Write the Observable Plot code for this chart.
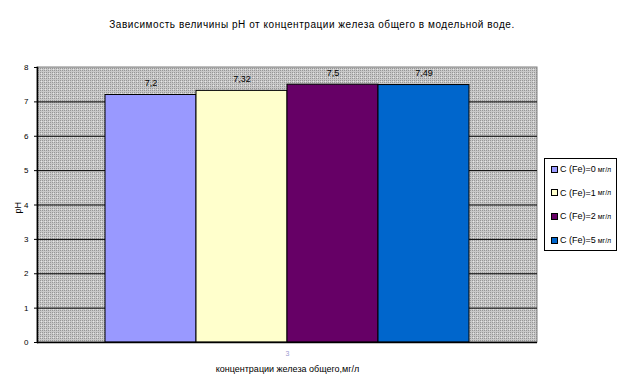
<!DOCTYPE html>
<html><head><meta charset="utf-8">
<script src="https://cdn.jsdelivr.net/npm/d3@7"></script>
<script src="https://cdn.jsdelivr.net/npm/@observablehq/plot@0.6"></script>
<style>
body{margin:0;background:#fff;font-family:"Liberation Sans",Arial,sans-serif;}
#wrap{position:relative;width:623px;height:388px;}
.legend{position:absolute;left:544px;top:158px;width:73px;height:93px;border:1px solid #000;background:#fff;box-sizing:border-box;}
.item{position:absolute;left:6px;display:flex;align-items:center;white-space:nowrap;color:#000;}
.sw{width:5px;height:5px;border:1px solid #000;margin-right:2px;}
.main{font-size:9px;}
.unit{font-size:7px;margin-left:2px;}
.title-text{letter-spacing:0.55px;}
</style></head><body><div id="wrap"></div>
<script>
const category = "3";
const series = ["C (Fe)=0", "C (Fe)=1", "C (Fe)=2", "C (Fe)=5"];
const unit = "мг/л";
const values = [7.2, 7.32, 7.5, 7.49];
const colors = ["#9999ff", "#ffffcc", "#660066", "#0066cc"];
const yTicks = [0, 1, 2, 3, 4, 5, 6, 7, 8];
const gridTicks = [1, 2, 3, 4, 5, 6, 7];
const title = "Зависимость величины pH от концентрации железа общего в модельной воде.";
const xLabel = "концентрации железа общего,мг/л";
const yLabel = "pH";

const rows = series.map((s, i) => ({series: s, value: values[i], label: String(values[i]).replace(".", ",")}));

function background(index, scales, vals, dim) {
  const g = d3.create("svg:g");
  const defs = g.append("defs");
  const p = defs.append("pattern").attr("id", "dots").attr("width", 4).attr("height", 4).attr("patternUnits", "userSpaceOnUse");
  p.append("rect").attr("width", 4).attr("height", 4).attr("fill", "#c8c8c8");
  [[0,0],[2,0],[0,2],[2,2]].forEach(([a,b]) => p.append("rect").attr("x", a).attr("y", b).attr("width", 1).attr("height", 1).attr("fill", "#969696"));
  p.append("rect").attr("x", 1).attr("y", 1).attr("width", 1).attr("height", 1).attr("fill", "#e6e6e6");
  g.append("rect")
    .attr("x", dim.marginLeft).attr("y", dim.marginTop)
    .attr("width", dim.width - dim.marginLeft - dim.marginRight)
    .attr("height", dim.height - dim.marginTop - dim.marginBottom)
    .attr("fill", "url(#dots)").attr("stroke", "#808080");
  return g.node();
}

const chart = Plot.plot({
  width: 623,
  height: 388,
  marginLeft: 37,
  marginRight: 86,
  marginTop: 67,
  marginBottom: 46,
  style: {fontFamily: "Liberation Sans, Arial, sans-serif", background: "transparent", overflow: "visible"},
  x: {domain: series, paddingInner: 0, paddingOuter: 0.747, axis: null},
  y: {domain: [0, 8], axis: null},
  color: {domain: series, range: colors},
  marks: [
    background,
    Plot.ruleY(gridTicks, {stroke: "#000", strokeWidth: 1}),
    Plot.barY(rows, {x: "series", y: "value", fill: "series", stroke: "#000", strokeWidth: 1, inset: 0}),
    Plot.ruleY([0], {stroke: "#000", strokeWidth: 1.5}),
    Plot.frame({anchor: "left", stroke: "#000", strokeWidth: 1.5}),
    Plot.axisY({ticks: yTicks, tickSize: 3, tickPadding: 6, fontSize: 8, label: null, tickFormat: d => String(d)}),
    Plot.text(rows, {x: "series", y: "value", text: "label", dy: -12, fontSize: 9, fill: "#000"}),
    Plot.text([title], {frameAnchor: "top", dx: 24.5, dy: -47, fontSize: 10, fill: "#000", className: "title-text"}),
    Plot.text([category], {frameAnchor: "bottom", dy: 13, fontSize: 7, fill: "#9a9ad0"}),
    Plot.text([xLabel], {frameAnchor: "bottom", dy: 29, fontSize: 9, fill: "#000"}),
    Plot.text([yLabel], {frameAnchor: "left", dx: -19, dy: 8.5, rotate: -90, fontSize: 9, fill: "#000"})
  ]
});

const wrap = document.getElementById("wrap");
wrap.appendChild(chart);

const legend = d3.select(wrap).append("div").attr("class", "legend");
series.forEach((s, i) => {
  const it = legend.append("div").attr("class", "item").style("top", (5 + i * 23.7) + "px");
  it.append("div").attr("class", "sw").style("background", colors[i]);
  it.append("span").attr("class", "main").text(s);
  it.append("span").attr("class", "unit").text(unit);
});
</script></body></html>
